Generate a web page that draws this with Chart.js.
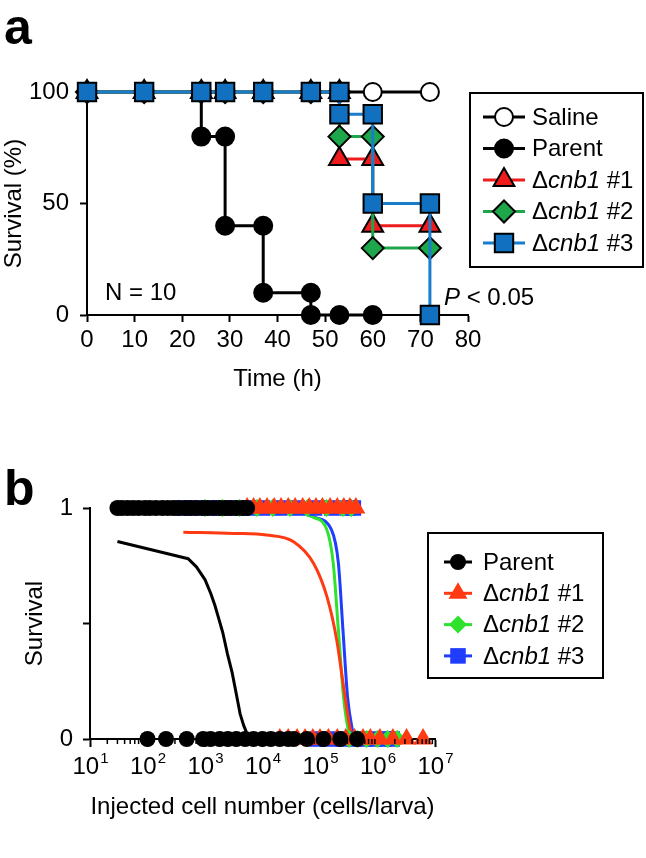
<!DOCTYPE html>
<html>
<head>
<meta charset="utf-8">
<script src="https://cdn.jsdelivr.net/npm/chart.js@4.4.1/dist/chart.umd.min.js"></script>
<style>
  html, body { margin: 0; padding: 0; background: #fff; }
  #wrap { position: relative; width: 646px; height: 858px; }
  canvas { position: absolute; left: 0; }
  #chartA { top: 0; }
  #chartB { top: 430px; }
</style>
</head>
<body>
<div id="wrap">
  <canvas id="chartA" width="646" height="430"></canvas>
  <canvas id="chartB" width="646" height="428"></canvas>
</div>
<script>
// ---- DATA: panel a (survival %, time in h) ----
const timeSaline = [0, 12, 24, 29, 37, 47, 53, 60, 72];
const survSaline = [100, 100, 100, 100, 100, 100, 100, 100, 100];
const timeParent = [0, 12, 24, 24, 29, 29, 37, 37, 47, 47, 53, 60];
const survParent = [100, 100, 100, 80, 80, 40, 40, 10, 10, 0, 0, 0];
const timeCnb1 = [0, 12, 24, 29, 37, 47, 53, 53, 60, 60, 72];
const survCnb1 = [100, 100, 100, 100, 100, 100, 100, 70, 70, 40, 40];
const timeCnb2 = [0, 12, 24, 29, 37, 47, 53, 53, 60, 60, 72];
const survCnb2 = [100, 100, 100, 100, 100, 100, 100, 80, 80, 30, 30];
const timeCnb3 = [0, 12, 24, 29, 37, 47, 53, 53, 60, 60, 72, 72];
const survCnb3 = [100, 100, 100, 100, 100, 100, 100, 90, 90, 50, 50, 0];
const timeTicks = [0, 10, 20, 30, 40, 50, 60, 70, 80];

// ---- DATA: panel b (injected cells per larva; alive = 1, dead = 0) ----
const parentAlive = [30, 36, 45, 56, 70, 90, 110, 140, 180, 225, 280, 350, 450, 560, 700, 900, 1100, 1400, 1800, 2250, 2800, 3500, 4500, 5400];
const parentDead = [100, 210, 480, 930, 1250, 1800, 2500, 3500, 5000, 7000, 10000, 14000, 20000, 28000, 35000, 59000, 115000, 225000, 440000];
const cnb1Alive = [5400, 7000, 9000, 12000, 16000, 21000, 28000, 37000, 50000, 65000, 85000, 110000, 150000, 200000, 260000, 330000, 420000];
const cnb1Dead = [20000, 28000, 40000, 55000, 75000, 100000, 140000, 200000, 280000, 400000, 560000, 750000, 1100000, 1850000, 3200000, 6200000];
const cnb2Alive = [1000, 2000, 4000, 8000, 15000, 30000, 60000, 130000, 250000, 350000];
const cnb2Dead = [320000, 450000, 650000, 1000000, 1500000, 2200000];
const cnb3Alive = [400, 700, 1200, 2000, 3500, 6000, 10000, 20000, 40000, 80000, 160000, 300000, 380000];
const cnb3Dead = [90000, 150000, 250000, 400000, 600000, 900000, 1300000, 1800000];

// fitted curves
const fitParentX = [30, 513, 710, 1000, 1260, 1480, 1740, 2040, 2450, 2950, 3470, 4070, 4680, 5250];
const fitParentY = [0.855, 0.78, 0.745, 0.69, 0.63, 0.58, 0.52, 0.46, 0.37, 0.29, 0.20, 0.11, 0.06, 0.03];
const fitCnb1X = [420, 3200, 11800, 34700, 77600, 132000, 195000, 257000, 331000, 380000];
const fitCnb1Y = [0.895, 0.89, 0.883, 0.854, 0.76, 0.616, 0.43, 0.226, 0.05, 0.0];
const fitCnb2X = [31600, 75900, 132000, 170000, 209000, 257000, 316000, 355000];
const fitCnb2Y = [0.995, 0.96, 0.905, 0.76, 0.47, 0.18, 0.03, 0.0];
const fitCnb3X = [31600, 79400, 158500, 209000, 251000, 302000, 371500, 398000];
const fitCnb3Y = [0.995, 0.96, 0.905, 0.76, 0.47, 0.18, 0.03, 0.0];
const decadeTicks = [10, 100, 1000, 10000, 100000, 1000000, 10000000];

// ---- helpers ----
const FONT = '"Liberation Sans", Arial, Helvetica, sans-serif';
Chart.defaults.font.family = FONT;
Chart.defaults.font.size = 24;
Chart.defaults.color = '#000';

const pts = (xs, ys) => xs.map((x, i) => ({ x: x, y: Array.isArray(ys) ? ys[i] : ys }));

function drawMarker(ctx, style, x, y, r, fill, stroke, bw) {
  ctx.beginPath();
  if (style === 'circle') {
    ctx.arc(x, y, r, 0, Math.PI * 2);
  } else if (style === 'triangle') {
    for (let k = 0; k < 3; k++) {
      const a = k * 2 * Math.PI / 3;
      const px = x + Math.sin(a) * r, py = y - Math.cos(a) * r;
      if (k) ctx.lineTo(px, py); else ctx.moveTo(px, py);
    }
    ctx.closePath();
  } else if (style === 'rectRot') {
    ctx.moveTo(x - r, y); ctx.lineTo(x, y - r); ctx.lineTo(x + r, y); ctx.lineTo(x, y + r);
    ctx.closePath();
  } else {
    const s = r * Math.SQRT1_2;
    ctx.rect(x - s, y - s, 2 * s, 2 * s);
  }
  ctx.fillStyle = fill;
  ctx.fill();
  if (bw) { ctx.lineWidth = bw; ctx.strokeStyle = stroke; ctx.stroke(); }
}

function drawParts(ctx, parts, x, y, size) {
  parts.forEach(([t, ital]) => {
    ctx.font = (ital ? 'italic ' : '') + size + 'px ' + FONT;
    ctx.fillText(t, x, y);
    x += ctx.measureText(t).width;
  });
}

// legend box + free texts
const annotate = {
  id: 'annotate',
  afterDraw(chart, args, opts) {
    const ctx = chart.ctx;
    ctx.save();
    if (opts.box) {
      const [x0, y0, x1, y1] = opts.box;
      ctx.lineWidth = 2; ctx.strokeStyle = '#000';
      ctx.strokeRect(x0, y0, x1 - x0, y1 - y0);
      opts.items.forEach((it, i) => {
        const y = opts.rowTop + i * opts.rowStep;
        const lineDs = chart.data.datasets[it.line];
        const mk = chart.data.datasets[it.marker];
        ctx.beginPath();
        ctx.moveTo(opts.lineX[0], y); ctx.lineTo(opts.lineX[1], y);
        ctx.strokeStyle = lineDs.borderColor; ctx.lineWidth = 3;
        ctx.stroke();
        drawMarker(ctx, mk.pointStyle, (opts.lineX[0] + opts.lineX[1]) / 2, y,
          it.r || mk.pointRadius, mk.pointBackgroundColor, mk.pointBorderColor, mk.pointBorderWidth);
        ctx.fillStyle = '#000';
        ctx.textBaseline = 'middle';
        drawParts(ctx, it.parts, opts.textX, y + 1, 24);
      });
    }
    ctx.textBaseline = 'alphabetic';
    ctx.fillStyle = '#000';
    (opts.texts || []).forEach(t => drawParts(ctx, t.parts, t.x, t.y, t.size));
    ctx.restore();
  }
};

// log axis labels 10^n and minor ticks
const logAxisDecor = {
  id: 'logAxisDecor',
  afterDraw(chart) {
    const xs = chart.scales.x;
    if (xs.type !== 'logarithmic') return;
    const ctx = chart.ctx;
    ctx.save();
    ctx.strokeStyle = '#000'; ctx.lineWidth = 1.5;
    const yb = chart.chartArea.bottom;
    for (let d = 0; d < decadeTicks.length - 1; d++) {
      for (let m = 2; m <= 9; m++) {
        const px = xs.getPixelForValue(decadeTicks[d] * m);
        ctx.beginPath(); ctx.moveTo(px, yb); ctx.lineTo(px, yb + 5); ctx.stroke();
      }
    }
    ctx.fillStyle = '#000';
    ctx.textBaseline = 'alphabetic';
    decadeTicks.forEach(v => {
      const px = xs.getPixelForValue(v);
      const ex = String(Math.round(Math.log10(v)));
      ctx.font = '24px ' + FONT;
      const w1 = ctx.measureText('10').width;
      ctx.font = '15px ' + FONT;
      const w2 = ctx.measureText(ex).width;
      const x0 = px - (w1 + w2) / 2;
      ctx.font = '24px ' + FONT;
      ctx.fillText('10', x0, 344);
      ctx.font = '15px ' + FONT;
      ctx.fillText(ex, x0 + w1 + 1, 333);
    });
    ctx.restore();
  }
};

const axisStyle = {
  border: { display: true, color: '#000', width: 2 },
  grid: { drawOnChartArea: false, drawTicks: true, tickLength: 7, tickWidth: 2, tickColor: '#000' }
};

// ---- PANEL a ----
const RED = '#ee1c1c', GREEN = '#1ea64b', BLUE = '#1270c0';
const chartA = new Chart(document.getElementById('chartA'), {
  type: 'scatter',
  data: {
    datasets: [
      { data: pts(timeCnb3, survCnb3), showLine: true, borderColor: '#1a7ccc', borderWidth: 3,
        pointStyle: 'rect', pointRadius: 13, pointBackgroundColor: BLUE, pointBorderColor: '#000', pointBorderWidth: 2, clip: false },
      { data: pts(timeCnb2, survCnb2), showLine: true, borderColor: GREEN, borderWidth: 3,
        pointStyle: 'rectRot', pointRadius: 11, pointBackgroundColor: GREEN, pointBorderColor: '#000', pointBorderWidth: 2, clip: false },
      { data: pts(timeCnb1, survCnb1), showLine: true, borderColor: RED, borderWidth: 3,
        pointStyle: 'triangle', pointRadius: 12, pointBackgroundColor: RED, pointBorderColor: '#000', pointBorderWidth: 2, clip: false },
      { data: pts(timeParent, survParent), showLine: true, borderColor: '#000', borderWidth: 3,
        pointStyle: 'circle', pointRadius: 9, pointBackgroundColor: '#000', pointBorderColor: '#000', pointBorderWidth: 2, clip: false },
      { data: pts(timeSaline, survSaline), showLine: true, borderColor: '#000', borderWidth: 3,
        pointStyle: 'circle', pointRadius: 9, pointBackgroundColor: '#fff', pointBorderColor: '#000', pointBorderWidth: 2, clip: false }
    ]
  },
  options: {
    responsive: false, animation: false, devicePixelRatio: 1,
    layout: { padding: { top: 92, right: 178, bottom: 0, left: 0 } },
    plugins: {
      legend: { display: false }, tooltip: { enabled: false },
      annotate: {
        box: [470, 93, 643, 267], lineX: [483, 525], textX: 532, rowTop: 117, rowStep: 31.5,
        items: [
          { line: 4, marker: 4, parts: [['Saline', false]] },
          { line: 3, marker: 3, parts: [['Parent', false]] },
          { line: 2, marker: 2, parts: [['\u0394', false], ['cnb1', true], [' #1', false]] },
          { line: 1, marker: 1, parts: [['\u0394', false], ['cnb1', true], [' #2', false]] },
          { line: 0, marker: 0, parts: [['\u0394', false], ['cnb1', true], [' #3', false]] }
        ],
        texts: [
          { parts: [['a', false]], x: 4, y: 44, size: 'bold 50' },
          { parts: [['N = 10', false]], x: 105, y: 300, size: 24 },
          { parts: [['P', true], [' < 0.05', false]], x: 444, y: 305, size: 24 }
        ]
      }
    },
    scales: {
      x: {
        type: 'linear', min: 0, max: 80,
        afterBuildTicks: s => { s.ticks = timeTicks.map(v => ({ value: v })); },
        ticks: { padding: 4, font: { size: 24 } },
        title: { display: true, text: 'Time (h)', font: { size: 24 }, padding: { top: 0, bottom: 36 } },
        afterFit: s => { s.height = 115; },
        ...axisStyle
      },
      y: {
        min: 0, max: 100,
        ticks: { stepSize: 50, padding: 11, font: { size: 24 } },
        title: { display: true, text: 'Survival (%)', font: { size: 24 }, padding: { top: 0, bottom: 0 } },
        afterFit: s => { s.width = 87; },
        ...axisStyle
      }
    }
  },
  plugins: [annotate]
});

// ---- PANEL b ----
const RED_B = '#ff3a12', GREEN_B = '#2ee22e', BLUE_B = '#1f3cff';
const chartB = new Chart(document.getElementById('chartB'), {
  type: 'scatter',
  data: {
    datasets: [
      { data: pts(parentAlive, 1).concat(pts(parentDead, 0)), pointStyle: 'circle', pointRadius: 8,
        pointBackgroundColor: '#000', pointBorderColor: '#000', pointBorderWidth: 0, clip: false },
      { data: pts(cnb1Alive, 1).concat(pts(cnb1Dead, 0)), pointStyle: 'triangle', pointRadius: 11,
        pointBackgroundColor: RED_B, pointBorderColor: RED_B, pointBorderWidth: 0, clip: false },
      { data: pts(cnb2Alive, 1).concat(pts(cnb2Dead, 0)), pointStyle: 'rectRot', pointRadius: 9,
        pointBackgroundColor: GREEN_B, pointBorderColor: GREEN_B, pointBorderWidth: 0, clip: false },
      { data: pts(cnb3Alive, 1).concat(pts(cnb3Dead, 0)), pointStyle: 'rect', pointRadius: 11,
        pointBackgroundColor: BLUE_B, pointBorderColor: BLUE_B, pointBorderWidth: 0, clip: false },
      { data: pts(fitParentX, fitParentY), showLine: true, pointRadius: 0, borderColor: '#000', borderWidth: 3,
        tension: 0, borderJoinStyle: 'round', clip: false },
      { data: pts(fitCnb1X, fitCnb1Y), showLine: true, pointRadius: 0, borderColor: RED_B, borderWidth: 3,
        cubicInterpolationMode: 'monotone', clip: false },
      { data: pts(fitCnb2X, fitCnb2Y), showLine: true, pointRadius: 0, borderColor: GREEN_B, borderWidth: 3,
        cubicInterpolationMode: 'monotone', clip: false },
      { data: pts(fitCnb3X, fitCnb3Y), showLine: true, pointRadius: 0, borderColor: BLUE_B, borderWidth: 3,
        cubicInterpolationMode: 'monotone', clip: false }
    ]
  },
  options: {
    responsive: false, animation: false, devicePixelRatio: 1,
    layout: { padding: { top: 78, right: 211, bottom: 0, left: 0 } },
    plugins: {
      legend: { display: false }, tooltip: { enabled: false },
      annotate: {
        box: [428, 103, 603, 248], lineX: [444, 472], textX: 483, rowTop: 132, rowStep: 31.3,
        items: [
          { line: 4, marker: 0, parts: [['Parent', false]] },
          { line: 5, marker: 1, parts: [['\u0394', false], ['cnb1', true], [' #1', false]] },
          { line: 6, marker: 2, parts: [['\u0394', false], ['cnb1', true], [' #2', false]] },
          { line: 7, marker: 3, parts: [['\u0394', false], ['cnb1', true], [' #3', false]] }
        ],
        texts: [
          { parts: [['b', false]], x: 4, y: 75, size: 'bold 50' }
        ]
      }
    },
    scales: {
      x: {
        type: 'logarithmic', min: 10, max: 10000000,
        afterBuildTicks: s => { s.ticks = decadeTicks.map(v => ({ value: v })); },
        ticks: { callback: () => '', padding: 4 },
        title: { display: true, text: 'Injected cell number (cells/larva)', font: { size: 24 }, padding: { top: 0, bottom: 36 } },
        afterFit: s => { s.height = 119; },
        ...axisStyle,
        grid: { drawOnChartArea: false, drawTicks: true, tickLength: 8, tickWidth: 2, tickColor: '#000' }
      },
      y: {
        min: 0, max: 1,
        ticks: { stepSize: 0.5, padding: 10, font: { size: 24 }, callback: v => (v === 0.5 ? '' : v) },
        title: { display: true, text: 'Survival', font: { size: 24 }, padding: { top: 21, bottom: 0 } },
        afterFit: s => { s.width = 90; },
        ...axisStyle
      }
    }
  },
  plugins: [annotate, logAxisDecor]
});
</script>
</body>
</html>
